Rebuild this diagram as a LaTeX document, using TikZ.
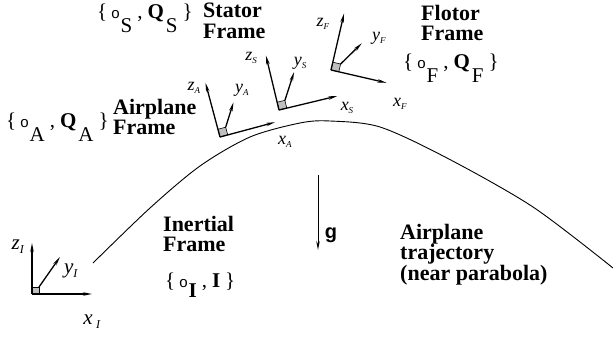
\documentclass[tikz,border=0pt]{standalone}
\usepackage{fontspec}
\setmainfont{Liberation Serif}
\setsansfont{Liberation Sans}
\usetikzlibrary{arrows.meta}

\newcommand{\low}[2][14pt]{\lower#1\hbox{#2}}
\newcommand{\oset}[3][14pt]{\{\hspace{4pt}{\sffamily\fontsize{15}{15}\selectfont o}\hspace{1pt}\low[#1]{#2}\hspace{5pt},\hspace{5pt}#3\hspace{5pt}\}}
\newcommand{\ax}[2]{\textit{#1}\raisebox{-3pt}{\fontsize{9}{9}\selectfont\textit{#2}}}
\newcommand{\axI}[2]{\textit{#1}\raisebox{-4pt}{\fontsize{12}{12}\selectfont\textit{#2}}}

\begin{document}
\begin{tikzpicture}[x=1pt,y=-1pt,
  axis/.style={line width=1.3pt,-{Stealth[length=9pt,width=3.5pt]}},
  box/.style={fill=gray!50,draw=black,line width=0.6pt},
  ttl/.style={font=\fontsize{22}{20.5}\selectfont\bfseries,align=left,anchor=north west,inner sep=0pt},
  set/.style={font=\fontsize{21}{21}\selectfont,anchor=base west,inner sep=0pt},
  lbl/.style={font=\fontsize{18}{18}\selectfont,inner sep=0pt},
  lblI/.style={font=\fontsize{21}{21}\selectfont,inner sep=0pt}]
\useasboundingbox (0,0) rectangle (613,337);

\draw[line width=0.9pt] plot[smooth] coordinates {(93,263) (150,208) (200,166) (250,137)
  (300,123) (330,121) (380,127) (447,158) (533,207) (613,268)};

% inertial frame
\coordinate (oI) at (32,294);
\coordinate (xI) at (92,294);
\coordinate (zI) at (32,243);
\coordinate (cI) at (39,287);
\coordinate (yI) at (60,257);
\draw[box] (oI) rectangle (cI);
\draw[axis] (oI) -- (xI);
\draw[axis] (oI) -- (zI);
\draw[axis] (cI) -- (yI);
\node[lblI] (lzI) at (18,247) {\axI{z}{I}};
\node[lblI] (lyI) at (71,271) {\axI{y}{I}};
\node[lblI] (lxI) at (92,322) {\textit{x}\,\axI{}{I}};

% airplane frame
\begin{scope}[shift={(220,137)},rotate=15]
\coordinate (oA) at (0,0);
\coordinate (xA) at (57,0);
\coordinate (zA) at (0,-56);
\coordinate (cA) at (8,-8);
\coordinate (yA) at (22,-30);
\draw[box] (0,0) -- (8,0) -- (8,-8) -- (0,-8) -- cycle;
\end{scope}
\draw[axis] (oA) -- (xA);
\draw[axis] (oA) -- (zA);
\draw[axis] (cA) -- (yA);
\node[lbl] (lzA) at (194,88) {\ax{z}{A}};
\node[lbl] (lyA) at (242,90) {\ax{y}{A}};
\node[lbl] (lxA) at (285,142) {\ax{x}{A}};

% stator frame
\begin{scope}[shift={(279,110)},rotate=13.5]
\coordinate (oS) at (0,0);
\coordinate (xS) at (60,0);
\coordinate (zS) at (0,-56);
\coordinate (cS) at (8,-8);
\coordinate (yS) at (23.5,-33.4);
\draw[box] (0,0) -- (8,0) -- (8,-8) -- (0,-8) -- cycle;
\end{scope}
\draw[axis] (oS) -- (xS);
\draw[axis] (oS) -- (zS);
\draw[axis] (cS) -- (yS);
\node[lbl] (lzS) at (251,58) {\ax{z}{S}};
\node[lbl] (lyS) at (300,63) {\ax{y}{S}};
\node[lbl] (lxS) at (347,108) {\ax{x}{S}};

% flotor frame
\begin{scope}[shift={(331,70)},rotate=-13]
\coordinate (oF) at (0,0);
\coordinate (xF) at (57,0);
\coordinate (zF) at (0,-58);
\coordinate (cF) at (8,-8);
\coordinate (yF) at (24,-33);
\draw[box] (0,0) -- (8,0) -- (8,-8) -- (0,-8) -- cycle;
\end{scope}
\draw[axis] (oF) -- (xF);
\draw[axis] (oF) -- (zF);
\draw[axis] (cF) -- (yF);
\node[lbl] (lzF) at (323,24) {\ax{z}{F}};
\node[lbl] (lyF) at (379,38) {\ax{y}{F}};
\node[lbl] (lxF) at (400,104) {\ax{x}{F}};

% gravity
\coordinate (gtop) at (318,175);
\coordinate (gtip) at (318,250);
\draw[axis,line width=1pt] (gtop) -- (gtip);
\node[inner sep=0pt,font=\fontsize{20}{20}\selectfont\sffamily\bfseries] (glbl) at (331,235) {g};

% titles
\node[ttl] (tS) at (203,3) {Stator\\Frame};
\node[ttl] (tA) at (113,99) {Airplane\\Frame};
\node[ttl] (tF) at (421,5) {Flotor\\Frame};
\node[ttl] (tI) at (163,216) {Inertial\\Frame};
\node[ttl] (tT) at (400,224) {Airplane\\trajectory\\(near parabola)};

\node[set] (sS) at (97,19) {\oset{S}{\textbf{Q}\hspace{2pt}\low{S}}};
\node[set] (sA) at (6,127) {\oset{A}{\textbf{Q}\hspace{2pt}\low{A}}};
\node[set] (sF) at (403,68) {\oset{F}{\textbf{Q}\hspace{2pt}\low{F}}};
\node[set] (sI) at (165,287) {\oset[10pt]{\textbf{I}}{\textbf{I}}};
\end{tikzpicture}
\end{document}
